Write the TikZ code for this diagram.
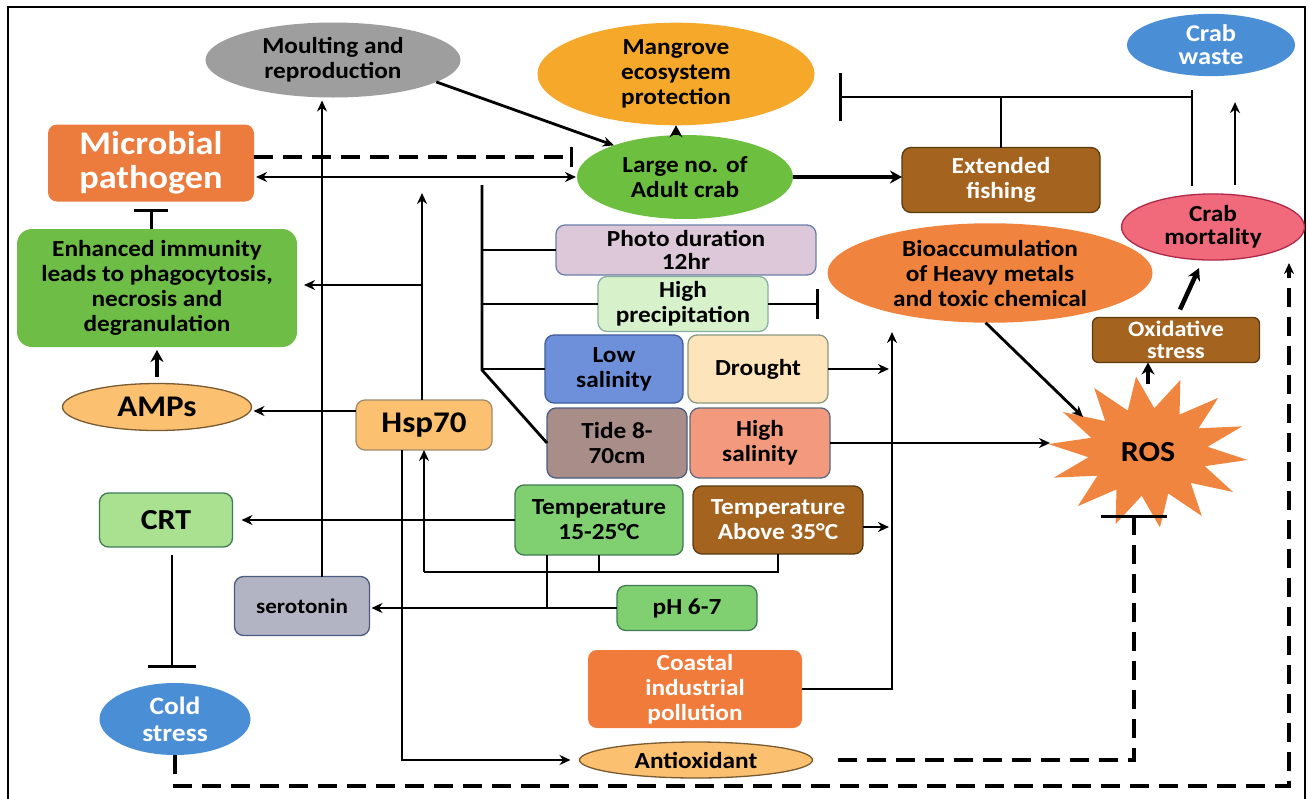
\documentclass[tikz,border=0pt]{standalone}
\usepackage{fontspec}
\setmainfont{Carlito}[FakeStretch=1.1]
\usetikzlibrary{shapes.geometric,arrows.meta,calc}
\definecolor{cMoult}{HTML}{9E9E9E}
\definecolor{cMang}{HTML}{F6A82A}
\definecolor{cBlue}{HTML}{4A8ED6}
\definecolor{cMicro}{HTML}{EC7B3E}
\definecolor{cAdult}{HTML}{6CBF3F}
\definecolor{cBrown}{HTML}{A4641F}
\definecolor{cMort}{HTML}{F06A7C}
\definecolor{cMortB}{HTML}{B02848}
\definecolor{cImmun}{HTML}{6DBD46}
\definecolor{cPhoto}{HTML}{DCC8D8}
\definecolor{cPhotoB}{HTML}{6B7FA8}
\definecolor{cPrecip}{HTML}{D7F1CB}
\definecolor{cPrecipB}{HTML}{86B0A0}
\definecolor{cBio}{HTML}{F0843E}
\definecolor{cLow}{HTML}{6E90DA}
\definecolor{cLowB}{HTML}{3F5C9C}
\definecolor{cDrought}{HTML}{FDE4BA}
\definecolor{cDroughtB}{HTML}{8A9A80}
\definecolor{cTide}{HTML}{A98D89}
\definecolor{cTideB}{HTML}{4A5D80}
\definecolor{cHiSal}{HTML}{F39A7E}
\definecolor{cHiSalB}{HTML}{5A6A80}
\definecolor{cTemp}{HTML}{80D072}
\definecolor{cTempB}{HTML}{3F7A55}
\definecolor{cTempHotB}{HTML}{5A3A10}
\definecolor{cCoast}{HTML}{F07B3A}
\definecolor{cLOr}{HTML}{FBC070}
\definecolor{cLOrB}{HTML}{7A5A30}
\definecolor{cCRT}{HTML}{A9E191}
\definecolor{cSero}{HTML}{B3B4C3}
\definecolor{cSeroB}{HTML}{4A5A80}
\definecolor{cROS}{HTML}{F08540}
\begin{document}
\begin{tikzpicture}[x=1pt,y=-1pt,
  every node/.style={font=\bfseries\fontsize{23}{25}\selectfont, align=center, inner sep=2pt, outer sep=0pt},
  rbox/.style={rectangle, rounded corners=9pt, line width=1.3pt},
  ell/.style={ellipse, line width=1.3pt},
  ln/.style={line width=2.8pt},
  arr/.style={ln, -{Stealth[length=11pt,width=10pt]}},
  darr/.style={ln, {Stealth[length=11pt,width=10pt]}-{Stealth[length=11pt,width=10pt]}},
  tarr/.style={line width=4.5pt, -{Stealth[length=12pt,width=13pt]}},
  inh/.style={ln, -{Bar[width=#1]}},
  dsh/.style={line width=3.2pt, dash pattern=on 19pt off 10pt},
]
\useasboundingbox (0,0) rectangle (1309,798);
\fill[white] (0,0) rectangle (1309,798);
% frame
\draw[line width=2.4pt] (8,800) -- (8,7) -- (1305,7) -- (1305,800);

% ROS starburst
\fill[cROS] plot[samples=29, domain=0:28, variable=\k]
  ({1148+(mod(\k,2)<0.5 ? 100 : 60)*cos(\k*360/28+6)},
   {452+(mod(\k,2)<0.5 ? 76 : 44)*sin(\k*360/28+6)}) -- cycle;

% nodes
\node[ell, fill=cMoult, minimum width=255pt, minimum height=75pt] (moult) at (333,60) {Moulting and\\reproduction};
\node[ell, fill=cMang, minimum width=277pt, minimum height=88pt] (mang) at (676,74) {Mangrove\\ecosystem\\protection};
\node[ell, fill=cBlue, text=white, minimum width=168pt, minimum height=52pt, font=\bfseries\fontsize{24}{23}\selectfont] (waste) at (1211,45) {Crab\\waste};
\node[rbox, fill=cMicro, text=white, minimum width=206pt, minimum height=77pt, font=\bfseries\fontsize{33}{34}\selectfont] (micro) at (151,163) {Microbial\\pathogen};
\node[ell, fill=cAdult, minimum width=216pt, minimum height=84pt] (adult) at (685,177) {Large no. of\\Adult crab};
\node[rbox, fill=cBrown, draw=cTempHotB, text=white, minimum width=198pt, minimum height=65pt] (fish) at (1001,180) {Extended\\fishing};
\node[ell, fill=cBio, minimum width=325pt, minimum height=98pt] (bio) at (990,273) {Bioaccumulation\\of Heavy metals\\and toxic chemical};
\node[ell, fill=cMort, draw=cMortB, minimum width=183pt, minimum height=54pt, font=\bfseries\fontsize{23}{23}\selectfont] (mort) at (1213,227) {Crab\\mortality};
\node[rbox, rounded corners=15pt, fill=cImmun, minimum width=280pt, minimum height=118pt] (immun) at (157,288) {Enhanced immunity\\leads to phagocytosis,\\necrosis and\\degranulation};
\node[rbox, fill=cPhoto, draw=cPhotoB, minimum width=260pt, minimum height=50pt, font=\bfseries\fontsize{23}{23}\selectfont] (photo) at (686,250) {Photo duration\\12hr};
\node[rbox, fill=cPrecip, draw=cPrecipB, minimum width=170pt, minimum height=55pt] (precip) at (683,304) {High\\precipitation};
\node[rbox, fill=cLow, draw=cLowB, minimum width=138pt, minimum height=68pt] (lowsal) at (614,369) {Low\\salinity};
\node[rbox, fill=cDrought, draw=cDroughtB, minimum width=140pt, minimum height=68pt] (drought) at (758,369) {Drought};
\node[rbox, fill=cTide, draw=cTideB, minimum width=140pt, minimum height=70pt] (tide) at (617,443) {Tide 8-\\70cm};
\node[rbox, fill=cHiSal, draw=cHiSalB, minimum width=140pt, minimum height=70pt] (hisal) at (760,443) {High\\salinity};
\node[rbox, fill=cTemp, draw=cTempB, minimum width=168pt, minimum height=70pt] (temp1) at (599,520) {Temperature\\15-25°C};
\node[rbox, fill=cBrown, draw=cTempHotB, text=white, minimum width=170pt, minimum height=68pt] (temp2) at (778,520) {Temperature\\Above 35°C};
\node[rbox, fill=cTemp, draw=cTempB, minimum width=140pt, minimum height=45pt] (ph) at (687,608) {pH 6-7};
\node[rbox, fill=cCoast, text=white, minimum width=214pt, minimum height=78pt] (coast) at (695,689) {Coastal\\industrial\\pollution};
\node[ell, fill=cLOr, draw=cLOrB, minimum width=233pt, minimum height=36pt] (antiox) at (696,760) {Antioxidant};
\node[rbox, fill=cLOr, draw=cLOrB!70, minimum width=136pt, minimum height=50pt, font=\bfseries\fontsize{30}{30}\selectfont] (hsp) at (424,425) {Hsp70};
\node[ell, fill=cLOr, draw=cLOrB, minimum width=189pt, minimum height=47pt, font=\bfseries\fontsize{30}{30}\selectfont] (amps) at (157,407) {AMPs};
\node[rbox, fill=cCRT, draw=cTempB, minimum width=133pt, minimum height=54pt, font=\bfseries\fontsize{29}{29}\selectfont] (crt) at (166,520) {CRT};
\node[rbox, fill=cSero, draw=cSeroB, minimum width=135pt, minimum height=59pt, font=\bfseries\fontsize{21}{21}\selectfont] (sero) at (302,606) {serotonin};
\node[ell, fill=cBlue, text=white, minimum width=151pt, minimum height=72pt, font=\bfseries\fontsize{25}{27}\selectfont] (cold) at (175,719) {Cold\\stress};
\node[rbox, rounded corners=6pt, fill=cBrown, draw=cTempHotB, text=white, minimum width=167pt, minimum height=45pt, font=\bfseries\fontsize{22}{22}\selectfont] (oxi) at (1176,340) {Oxidative\\stress};
\node[ellipse, minimum width=196pt, minimum height=136pt, font=\bfseries\fontsize{29}{29}\selectfont] (ros) at (1148,452) {ROS};

% helper coordinates
\coordinate (xm) at (322,0);
\coordinate (hspup) at (422,193);
\coordinate (hspbr) at (422,285);
\coordinate (bt) at (482,185);
\coordinate (bk) at (482,370);
\coordinate (precipbar) at (819,304);
\coordinate (vx) at (892,332);
\coordinate (rosnw) at (1083,417);
\coordinate (mj) at (1192,97);
\coordinate (mangbar) at (839,97);
\coordinate (hj) at (424,572);
\coordinate (sj) at (547,608);
\coordinate (hx) at (402,0);
\coordinate (rosbar) at (1134,515);
\coordinate (cj) at (1289,786);
\coordinate (mortin) at (1289,263);

% connectors
\draw[arr] (moult.-12) -- (adult.156);
\draw[tarr] (mang.south |- adult.north) -- (mang.south);
\draw[dsh, -{Bar[width=20pt]}] ($(micro.east)+(0,-6)$) -- ($(micro.east -| adult.west)+(-4,-6)$);
\draw[darr, shorten <=1pt, shorten >=2pt] (adult.west) -- (adult.west -| micro.east);
\draw[arr, shorten >=3pt] (sero.north -| xm) -- (moult.south -| xm);
\draw[arr] (hsp.north -| hspup) -- (hspup);
\draw[arr, shorten >=7pt] (hspbr) -- (hspbr -| immun.east);
\draw[arr, shorten >=2pt] ($(hsp.west)+(0,-14)$) -- ($(hsp.west -| amps.east)+(0,-14)$);
\draw[tarr, shorten <=7pt, shorten >=3pt] (amps.north) -- (immun.south);
\draw[inh=34pt, line width=3pt, shorten >=7pt] (micro.south |- immun.north) -- (micro.south);
% factor bundle
\draw[ln] (bt) -- (bk) -- (tide.west);
\draw[ln] (photo.west) -- (photo.west -| bt);
\draw[ln] (precip.west) -- (precip.west -| bt);
\draw[ln] (lowsal.west) -- (lowsal.west -| bt);
\draw[inh=30pt] (precip.east) -- (precipbar);
\draw[arr, shorten >=3pt] (drought.east) -- (drought.east -| vx);
\draw[arr] (coast.east) -| (vx);
\draw[arr] (hisal.east) -- (hisal.east -| ros.west);
\draw[arr, shorten >=3pt] ($(temp2.east)+(0,7)$) -- ($(temp2.east -| vx)+(0,7)$);
\draw[arr] (bio.265) -- (rosnw);
\draw[tarr] (ros.north) -- (ros.north |- oxi.south);
\draw[tarr] ($(oxi.north)+(4,-8)$) -- ($(mort.south)+(-14,8)$);
\draw[arr] ($(mort.north)+(22,-9)$) -- ($(waste.south)+(24,26)$);
\draw[ln] ($(mort.north)+(-21,-8)$) -- ($(waste.south)+(-19,14)$);
\draw[ln] (mj) -- (mj -| fish.north);
\draw[inh=48pt] (fish.north) |- (mangbar);
\draw[tarr] (adult.east) -- (adult.east -| fish.west);
% lower part
\draw[arr, shorten >=9pt] (temp1.west) -- (temp1.west -| crt.east);
\draw[inh=48pt] ($(crt.south)+(6,8)$) -- ($(cold.north)+(-3,-15)$);
\draw[ln] (temp1.south) -- (temp1.south |- hj);
\draw[ln] (temp2.south) -- (temp2.south |- hj) -- (hj);
\draw[arr] (hj) -- (hj |- hsp.south);
\draw[ln] (temp1.south -| sj) -- (sj);
\draw[arr, shorten >=2pt] (ph.west) -- (ph.west -| sero.east);
\draw[arr, shorten >=9pt] (hsp.south -| hx) |- (antiox.west);
\draw[dsh, -{Bar[width=66pt]}, shorten <=25pt] (antiox.east) -| (rosbar);
\draw[dsh, -{Stealth[length=11pt,width=10pt]}] (cold.south) |- (cj) -- (mortin);
\end{tikzpicture}
\end{document}
